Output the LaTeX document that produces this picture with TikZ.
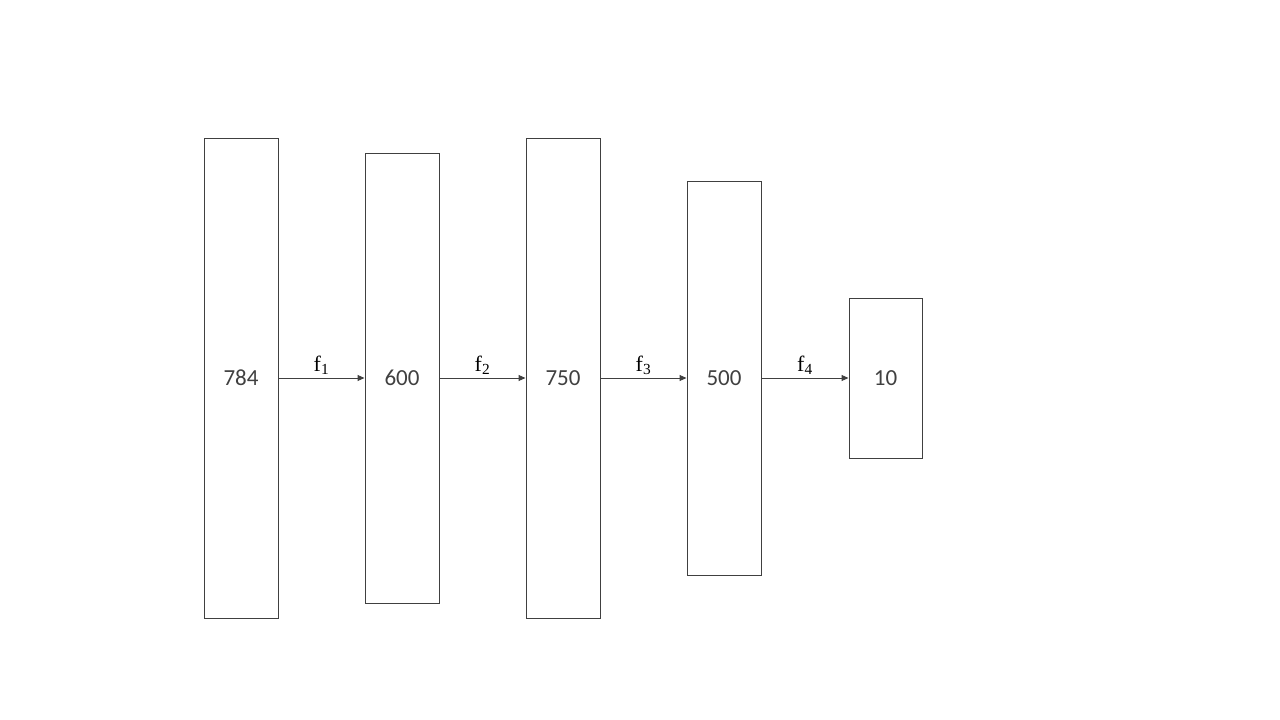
\documentclass[tikz,border=0pt]{standalone}
\usepackage{fontspec}
\setmainfont{Carlito}
\newfontfamily\serifl{Liberation Serif}
\usetikzlibrary{arrows.meta}
\definecolor{ln}{HTML}{404040}
\begin{document}
\begin{tikzpicture}[x=1pt,y=-1pt,
  layer/.style={draw=ln,line width=1pt,minimum width=74pt,inner sep=0pt,font=\fontsize{23}{27}\selectfont,text=ln},
  conn/.style={draw=ln,line width=1pt,-{Triangle[length=7pt,width=6pt]}},
  flab/.style={font=\serifl\fontsize{22}{26}\selectfont,text=black,above,inner sep=3pt}]
\useasboundingbox (0,0) rectangle (1280,720);
\node[layer,minimum height=480pt] (a) at (241,378) {784};
\node[layer,minimum height=450pt] (b) at (402,378) {600};
\node[layer,minimum height=480pt] (c) at (563,378) {750};
\node[layer,minimum height=394pt] (d) at (724,378) {500};
\node[layer,minimum height=160pt,minimum width=73pt] (e) at (885.5,378) {10};
\draw[conn] (a.east) -- node[flab] {f\textsubscript{1}} (b.west);
\draw[conn] (b.east) -- node[flab] {f\textsubscript{2}} (c.west);
\draw[conn] (c.east) -- node[flab] {f\textsubscript{3}} (d.west);
\draw[conn] (d.east) -- node[flab] {f\textsubscript{4}} (e.west);
\end{tikzpicture}
\end{document}
